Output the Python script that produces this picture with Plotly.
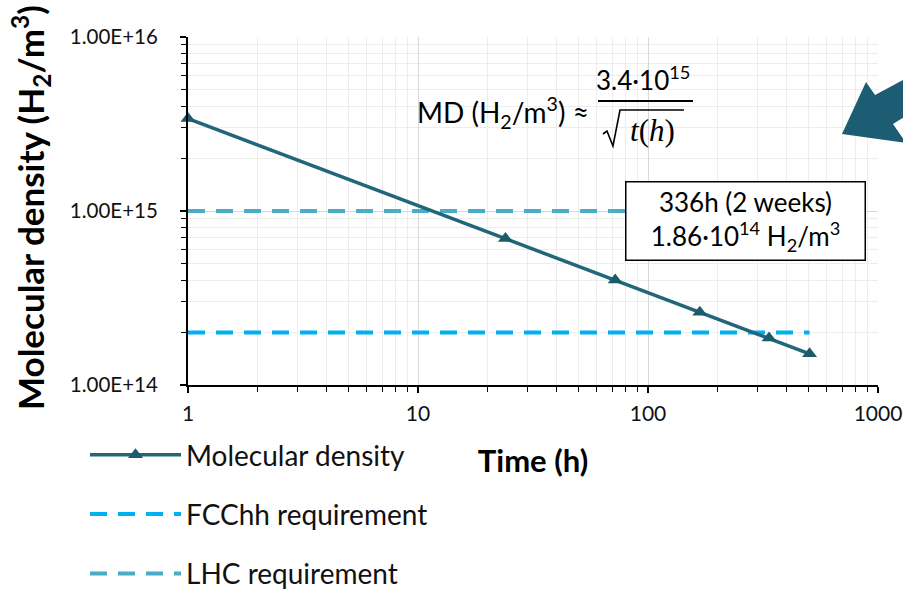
import plotly.graph_objects as go

# ---- data ----
time_h = [1, 24, 72, 168, 336, 504]
molecular_density = [3.4e15, 6.94e14, 4.01e14, 2.62e14, 1.86e14, 1.51e14]
req_time = [1, 504]
fcchh_req = [2e14, 2e14]
lhc_req = [1e15, 1e15]
y_tickvals = [1e14, 1e15, 1e16]
y_ticktext = ["1.00E+14", "1.00E+15", "1.00E+16"]
x_tickvals = [1, 10, 100, 1000]
x_ticktext = ["1", "10", "100", "1000"]

W, H = 903, 591
L, R, T, B = 188, 878, 37, 385  # plot area pixels


def px(x):
    return (x - L) / (R - L)


def py(y):
    return (B - y) / (B - T)


FONT = "Lato"
MD_COLOR = "#22667a"
FCC_COLOR = "#00b0f0"
LHC_COLOR = "#4bacc6"
DASH = "17px,11px"

fig = go.Figure()

fig.add_trace(go.Scatter(
    x=req_time, y=lhc_req, mode="lines", name="LHC requirement",
    line=dict(color=LHC_COLOR, width=4, dash=DASH),
    legendgroup="c", legendrank=3))
fig.add_trace(go.Scatter(
    x=req_time, y=fcchh_req, mode="lines", name="FCChh requirement",
    line=dict(color=FCC_COLOR, width=4, dash=DASH),
    legendgroup="b", legendrank=2))
fig.add_trace(go.Scatter(
    x=time_h, y=molecular_density, mode="lines+markers", name="Molecular density",
    line=dict(color=MD_COLOR, width=3.5),
    marker=dict(symbol="triangle-up", size=13, color="#1d5a6a"),
    cliponaxis=False, legendgroup="a", legendrank=1))

grid_minor = "#ededed"
grid_major = "#d9d9d9"

fig.update_xaxes(
    type="log", range=[0, 3],
    tickvals=x_tickvals, ticktext=x_ticktext,
    showline=True, linecolor="black", linewidth=2,
    ticks="outside", ticklen=6, tickcolor="black", tickwidth=1.5,
    ticklabelstandoff=3,
    showgrid=True, gridcolor=grid_major, gridwidth=1,
    minor=dict(ticks="outside", ticklen=5, tickcolor="black", tickwidth=1.2,
               showgrid=True, gridcolor=grid_minor, gridwidth=1,
               tickvals=[m * 10 ** d for d in range(3) for m in range(2, 10)]),
    tickfont=dict(family=FONT, size=21, color="#111"),
    title=dict(text="<b>Time (h)</b>", font=dict(family=FONT, size=31, color="black"),
               standoff=26),
    zeroline=False, mirror=False,
)
fig.update_yaxes(
    type="log", range=[14, 16],
    tickvals=y_tickvals, ticktext=y_ticktext,
    showline=True, linecolor="black", linewidth=2,
    ticks="outside", ticklen=6, tickcolor="black", tickwidth=1.5,
    ticklabelstandoff=18,
    showgrid=True, gridcolor=grid_major, gridwidth=1,
    minor=dict(ticks="outside", ticklen=5, tickcolor="black", tickwidth=1.2,
               showgrid=True, gridcolor=grid_minor, gridwidth=1,
               tickvals=[m * 10 ** d for d in range(14, 16) for m in range(2, 10)]),
    tickfont=dict(family=FONT, size=20.5, color="#111"),
    zeroline=False,
)

annotations = [
    # y-axis title
    dict(text="<b>Molecular density (H<sub>2</sub>/m<sup>3</sup>)</b>",
         x=px(30), y=py(208), xref="paper", yref="paper", textangle=-90,
         showarrow=False, font=dict(family=FONT, size=35, color="black"),
         xanchor="center", yanchor="middle"),
    # formula
    dict(text="MD (H<sub>2</sub>/m<sup>3</sup>) ≈", x=px(591), y=py(112),
         xref="paper", yref="paper", showarrow=False, xanchor="right", yanchor="middle",
         font=dict(family=FONT, size=28, color="black")),
    dict(text="3.4·10<sup>15</sup>", x=px(643), y=py(78),
         xref="paper", yref="paper", showarrow=False, xanchor="center", yanchor="middle",
         font=dict(family=FONT, size=26, color="black")),
    dict(text="<i>t</i>(<i>h</i>)", x=px(652), y=py(130),
         xref="paper", yref="paper", showarrow=False, xanchor="center", yanchor="middle",
         font=dict(family="Liberation Serif", size=31, color="black")),
    # info box
    dict(text="336h (2 weeks)<br>1.86·10<sup>14</sup> H<sub>2</sub>/m<sup>3</sup>",
         x=px(745.5), y=py(221), xref="paper", yref="paper", showarrow=False,
         xanchor="center", yanchor="middle", align="center",
         font=dict(family=FONT, size=26, color="black"),
         bgcolor="white", bordercolor="black", borderwidth=1.5,
         width=236, height=75, borderpad=1),
]

shapes = [
    # fraction bar
    dict(type="line", xref="paper", yref="paper", x0=px(598), x1=px(693),
         y0=py(101), y1=py(101), line=dict(color="black", width=2)),
]

# radical sign with overline
rad = [(603, 134), (607, 131), (613, 146), (620, 110), (684, 110)]
shapes.append(dict(type="path", xref="paper", yref="paper",
                   path="M " + " L ".join(f"{px(a):.4f},{py(b):.4f}" for a, b in rad),
                   line=dict(color="black", width=1.6)))

# big arrow at top-right
arrow_px = [(842, 134), (866, 82), (875, 95), (912, 75), (926, 103), (893, 124), (906, 143)]
path = "M " + " L ".join(f"{px(a):.4f},{py(b):.4f}" for a, b in arrow_px) + " Z"
shapes.append(dict(type="path", path=path, xref="paper", yref="paper",
                   fillcolor="#1d5d74", line=dict(width=0), layer="above"))

fig.update_layout(
    width=W, height=H,
    margin=dict(l=L, r=W - R, t=T, b=H - B, pad=0, autoexpand=False),
    plot_bgcolor="white", paper_bgcolor="white",
    annotations=annotations, shapes=shapes,
    showlegend=True,
    legend=dict(x=px(85), y=py(430), xanchor="left", yanchor="top",
                font=dict(family=FONT, size=28, color="#111"),
                itemwidth=91,
                traceorder="grouped", tracegroupgap=20,
                bgcolor="rgba(0,0,0,0)"),
)

fig.write_html("out.html")
